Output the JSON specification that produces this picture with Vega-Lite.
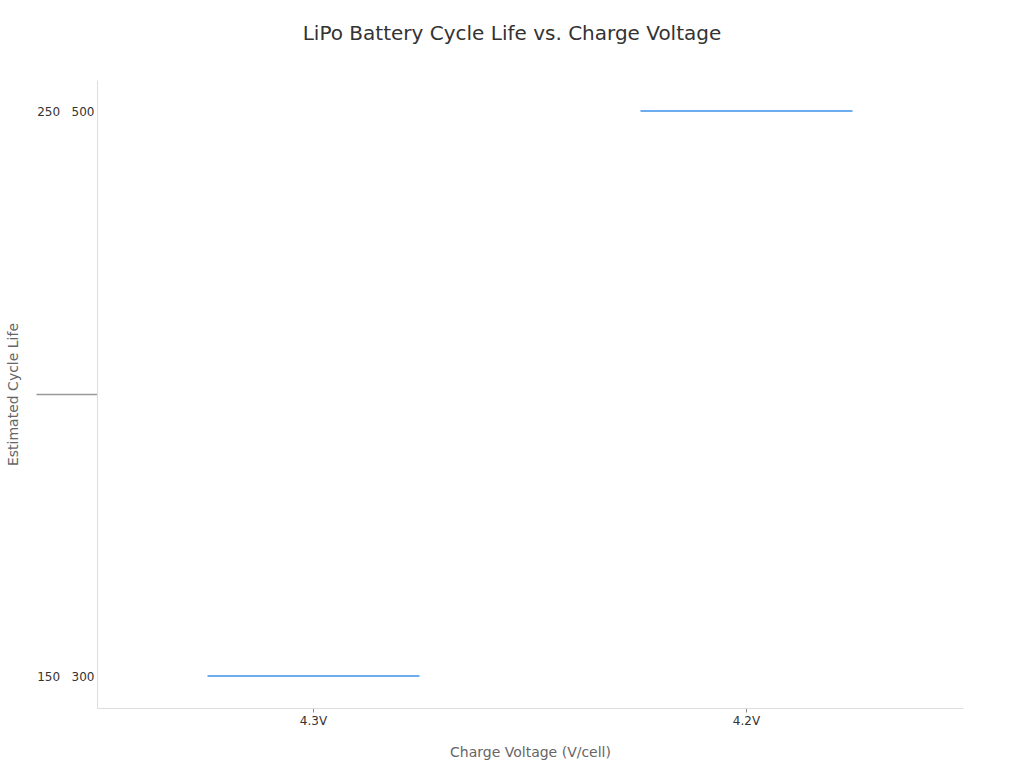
{
  "$schema": "https://vega.github.io/schema/vega-lite/v6.json",
  "autosize": "none",
  "padding": {"left": 97, "top": 80, "right": 61, "bottom": 60},
  "width": 866,
  "height": 628,
  "background": "white",
  "title": {
    "text": "LiPo Battery Cycle Life vs. Charge Voltage",
    "fontSize": 20,
    "fontWeight": "normal",
    "font": "DejaVu Sans",
    "color": "#333333",
    "anchor": "middle",
    "dx": -18,
    "offset": 36
  },
  "data": {
    "values": [
      {"voltage": "4.3V", "cycles_low": 150, "cycles_high": 300},
      {"voltage": "4.2V", "cycles_low": 250, "cycles_high": 500}
    ]
  },
  "mark": {"type": "tick", "color": "#2f8ae8", "thickness": 2.2, "size": 212},
  "encoding": {
    "x": {
      "field": "voltage",
      "type": "nominal",
      "sort": ["4.3V", "4.2V"],
      "title": "Charge Voltage (V/cell)",
      "axis": {
        "labelAngle": 0,
        "labelFont": "DejaVu Sans",
        "labelFontSize": 12,
        "labelColor": "#333333",
        "labelPadding": 3,
        "tickSize": 4,
        "tickColor": "#888888",
        "domainColor": "#dddddd",
        "titleFont": "DejaVu Sans",
        "titleFontSize": 14,
        "titleFontWeight": "normal",
        "titleColor": "#666666",
        "titlePadding": 19
      }
    },
    "y": {
      "field": "cycles_low",
      "type": "quantitative",
      "title": "Estimated Cycle Life",
      "scale": {"domain": [144.34, 255.49], "nice": false, "zero": false},
      "axis": {
        "values": [150, 200, 250],
        "labelExpr": "datum.value == 150 ? '150\u00a0\u00a0\u00a0300' : datum.value == 250 ? '250\u00a0\u00a0\u00a0500' : ''",
        "grid": false,
        "labelFont": "DejaVu Sans",
        "labelFontSize": 12,
        "labelColor": "#333333",
        "tickSize": 61,
        "tickWidth": 1.5,
        "tickColor": {"condition": {"test": "datum.value == 200", "value": "#999999"}, "value": "transparent"},
        "labelPadding": -58,
        "domainColor": "#dddddd",
        "titleFont": "DejaVu Sans",
        "titleFontSize": 14,
        "titleFontWeight": "normal",
        "titleColor": "#666666",
        "titlePadding": 15
      }
    }
  },
  "config": {
    "view": {"stroke": null},
    "font": "DejaVu Sans"
  }
}
